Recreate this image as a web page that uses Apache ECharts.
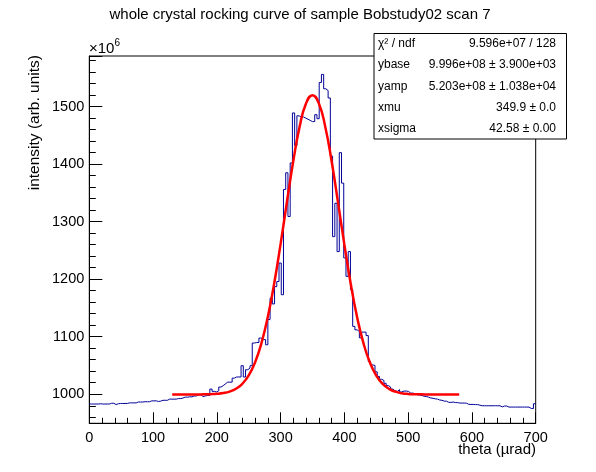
<!DOCTYPE html>
<html>
<head>
<meta charset="utf-8">
<script src="https://cdn.jsdelivr.net/npm/echarts@6/dist/echarts.min.js"></script>
<style>
  html, body { margin: 0; padding: 0; background: #fff; }
  #chart { width: 596px; height: 472px; }
</style>
</head>
<body>
<div id="chart"></div>
<script>
// histogram: 200 bins of 3.5 urad from 0 to 700, values in units of 1e6
const binWidth = 3.5;
const counts = [
  983, 983, 983, 983, 983.5, 983, 983, 983, 983, 984.3,
  984.3, 982, 983.5, 984, 984, 984, 984, 985, 985, 985,
  985, 986.5, 986.5, 986.5, 987, 987, 987, 988.5, 988.5, 988.5,
  987.5, 988, 989.5, 989.5, 989.5, 991.5, 991.5, 991.5, 991.5, 992.5,
  992.5, 993.5, 995, 995, 995.5, 995.5, 997, 997, 999, 999,
  996, 997, 998, 998, 1009, 1005, 1004, 1006, 1012.5, 1015,
  1018, 1021, 1021, 1021, 1028, 1030, 1030, 1030, 1049.6, 1030,
  1042.6, 1045.6, 1049.6, 1089, 1090, 1090, 1097.7, 1095, 1095, 1086,
  1130, 1167, 1157, 1187, 1196, 1228, 1173, 1356, 1385, 1309,
  1402, 1489, 1432, 1484, 1482, 1482, 1480, 1478, 1476, 1474,
  1474, 1486, 1479, 1542, 1556, 1531, 1528, 1515, 1414, 1274,
  1332, 1248, 1420, 1367, 1237, 1205, 1248, 1182, 1118, 1112,
  1109, 1098, 1108, 1108, 1102, 1057, 1051, 1050, 1039, 1031,
  1026, 1024, 1019, 1015, 1012.5, 1009, 1006, 1005, 1008, 1004,
  1005.5, 1005.5, 1005, 1002, 1002, 1001, 999, 998.6, 998, 996.5,
  996, 995, 993.5, 993, 992, 991.6, 990, 989.5, 988, 988,
  986, 985.8, 986.5, 985.5, 985.5, 984.7, 984.7, 984.7, 984.5, 982.5,
  982.3, 982.3, 982, 982, 981, 980, 980, 980, 980, 980,
  980, 980, 980, 980, 978, 979.5, 979.5, 977.7, 977.7, 977.7,
  977.7, 977.7, 977.7, 977.7, 977.7, 977.7, 977.7, 975.3, 975.3, 983.5
];

// fitted curve
const fitX = [
  130, 140, 150, 160, 170, 180, 190, 200, 210, 220,
  230, 240, 250, 260, 270, 280, 290, 300, 310, 320,
  330, 340, 350, 360, 370, 380, 390, 400, 410, 420,
  430, 440, 450, 460, 470, 480, 490, 500, 510, 520,
  530, 540, 550, 560, 570, 580
];
const fitY = [
  999.6, 999.6, 999.6, 999.6, 999.7, 999.8, 1000.1, 1000.7, 1002.0, 1004.6,
  1009.5, 1018.2, 1032.8, 1055.6, 1089.1, 1134.8, 1193.0, 1261.4, 1335.0, 1406.2,
  1466.1, 1506.0, 1519.9, 1505.5, 1465.1, 1404.9, 1333.5, 1260.0, 1191.7, 1133.8,
  1088.3, 1055.1, 1032.4, 1018.0, 1009.3, 1004.5, 1001.9, 1000.6, 1000.1, 999.8,
  999.7, 999.6, 999.6, 999.6, 999.6, 999.6
];

const statNames = ["χ² / ndf", "ybase", "yamp", "xmu", "xsigma"];
const statValues = [
  "9.596e+07 / 128",
  "9.996e+08 ± 3.900e+03",
  "5.203e+08 ± 1.038e+04",
  "349.9 ± 0.0",
  "42.58 ± 0.00"
];

const FONT = "'Liberation Sans', Arial, Helvetica, sans-serif";

const histData = counts.map((v, i) => [i * binWidth, v]);
histData.push([counts.length * binWidth, counts[counts.length - 1]]);
const fitData = fitX.map((x, i) => [x, fitY[i]]);

// stats box
const statGraphics = [{
  type: "rect",
  z: 100,
  shape: { x: 374, y: 33.5, width: 192.5, height: 105.5 },
  style: { fill: "#fff", stroke: "#000", lineWidth: 1 }
}];
statNames.forEach((name, i) => {
  const y = 44 + i * 21.1;
  statGraphics.push({
    type: "text", z: 101, x: 378, y: y,
    style: { text: name, fill: "#000", fontSize: 12, fontFamily: FONT, align: "left", verticalAlign: "middle" }
  });
  statGraphics.push({
    type: "text", z: 101, x: 556, y: y,
    style: { text: statValues[i], fill: "#000", fontSize: 12, fontFamily: FONT, align: "right", verticalAlign: "middle" }
  });
});

const chart = echarts.init(document.getElementById("chart"));
chart.setOption({
  animation: false,
  backgroundColor: "#fff",
  textStyle: { fontFamily: FONT },
  title: {
    text: "whole crystal rocking curve of sample Bobstudy02 scan 7",
    left: 295,
    top: 2,
    textAlign: "center",
    textStyle: { fontSize: 15, fontWeight: "normal", color: "#000", fontFamily: FONT }
  },
  grid: {
    left: 89.3,
    right: 60.3,
    top: 56,
    bottom: 48.7,
    show: true,
    borderColor: "#000",
    borderWidth: 1,
    outerBoundsMode: "none"
  },
  xAxis: {
    type: "value",
    min: 0,
    max: 700,
    interval: 100,
    axisLine: { lineStyle: { color: "#000", width: 1 } },
    axisTick: { inside: true, length: 11, lineStyle: { color: "#000" } },
    minorTick: { show: true, splitNumber: 5, length: 5.5, lineStyle: { color: "#000" } },
    splitLine: { show: false },
    axisLabel: { color: "#000", fontSize: 14.5, margin: 7, fontFamily: FONT, formatter: v => String(v) }
  },
  yAxis: {
    type: "value",
    min: 949.5,
    max: 1588,
    splitNumber: 5,
    axisLine: { lineStyle: { color: "#000", width: 1 } },
    axisTick: { inside: true, length: 13, lineStyle: { color: "#000" } },
    minorTick: { show: true, splitNumber: 5, length: 6.5, lineStyle: { color: "#000" } },
    splitLine: { show: false },
    axisLabel: {
      color: "#000", fontSize: 14.5, margin: 5, fontFamily: FONT,
      showMinLabel: false, showMaxLabel: false,
      formatter: v => String(v)
    }
  },
  graphic: [
    {
      type: "text", z: 100, x: 35, y: 55, rotation: Math.PI / 2,
      style: { text: "intensity (arb. units)", fill: "#000", fontSize: 15.5, fontFamily: FONT, align: "right", verticalAlign: "middle" }
    },
    {
      type: "text", z: 100, x: 536, y: 450,
      style: { text: "theta (µrad)", fill: "#000", fontSize: 15, fontFamily: FONT, align: "right", verticalAlign: "middle" }
    },
    {
      type: "text", z: 100, x: 89, y: 49,
      style: { text: "×10", fill: "#000", fontSize: 15, fontFamily: FONT, align: "left", verticalAlign: "middle" }
    },
    {
      type: "text", z: 100, x: 114.5, y: 43.5,
      style: { text: "6", fill: "#000", fontSize: 10, fontFamily: FONT, align: "left", verticalAlign: "middle" }
    }
  ].concat(statGraphics),
  series: [
    {
      type: "line",
      data: histData,
      step: "end",
      symbol: "none",
      silent: true,
      lineStyle: { color: "#000099", width: 1 },
      z: 2
    },
    {
      type: "line",
      data: fitData,
      smooth: true,
      symbol: "none",
      silent: true,
      lineStyle: { color: "#ff0000", width: 2.5 },
      z: 3
    }
  ]
});
</script>
</body>
</html>
